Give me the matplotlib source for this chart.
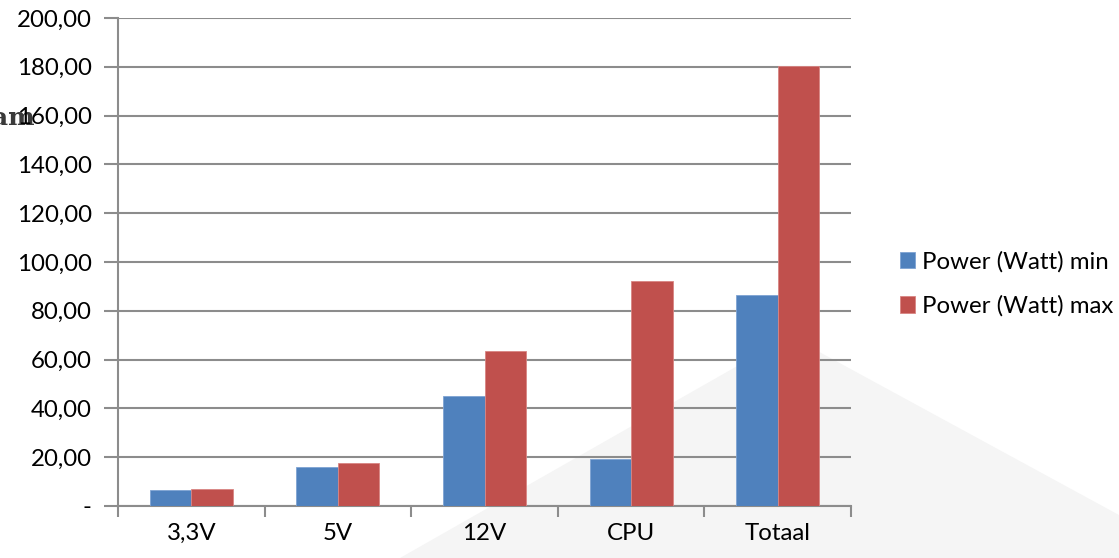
import matplotlib
matplotlib.use("Agg")
import matplotlib.pyplot as plt
from matplotlib.patches import Polygon
from matplotlib.ticker import FixedLocator, FuncFormatter
import numpy as np

categories = ["3,3V", "5V", "12V", "CPU", "Totaal"]
power_min = [6.5, 16.1, 45.0, 19.2, 86.5]
power_max = [6.8, 17.6, 63.5, 92.3, 180.3]
series_names = ["Power (Watt) min", "Power (Watt) max"]
yticks = [0, 20, 40, 60, 80, 100, 120, 140, 160, 180, 200]

W, H = 1119, 558
fig = plt.figure(figsize=(W / 100, H / 100), dpi=100)
fig.patch.set_facecolor("white")

# faint background watermark triangle
tri = Polygon([(400 / W, 0), (790 / W, 1 - 336 / H), (1.0, 1 - 515 / H), (1.0, 0)],
              closed=True, transform=fig.transFigure, facecolor="#f5f5f5",
              edgecolor="none", zorder=-5)
fig.patches.append(tri)

left, right, top, bottom = 118, 851, 18, 506
ax = fig.add_axes([left / W, 1 - bottom / H, (right - left) / W, (bottom - top) / H])
ax.set_facecolor("none")
ax.set_zorder(1)

font = "Lato"
fs = 17.3
blue = "#4f81bd"
red = "#c0504d"
grid_c = "#8c8c8c"

x = np.arange(len(categories))
bw = 0.283
ax.bar(x - bw / 2, power_min, width=bw, color=blue, edgecolor="#7ea3d3", linewidth=0.6,
       label=series_names[0], zorder=3)
ax.bar(x + bw / 2, power_max, width=bw, color=red, edgecolor="#d98583", linewidth=0.6,
       label=series_names[1], zorder=3)

ax.set_xlim(-0.5, len(categories) - 0.5)
ax.set_ylim(0, 200)
ax.yaxis.set_major_locator(FixedLocator(yticks))
ax.yaxis.set_major_formatter(FuncFormatter(
    lambda v, p: "-" if v == 0 else f"{v:.2f}".replace(".", ",")))
ax.grid(axis="y", color=grid_c, linewidth=1.5, zorder=1)
ax.set_axisbelow(True)

ax.set_xticks(x)
ax.set_xticklabels(categories, fontfamily=font, fontsize=fs)
ax.xaxis.set_minor_locator(FixedLocator(np.arange(-0.5, len(categories), 1.0)))
ax.tick_params(axis="x", which="major", length=0, pad=12)
ax.tick_params(axis="x", which="minor", length=8, width=1.5, color=grid_c)
ax.tick_params(axis="y", length=10, width=1.5, color=grid_c, pad=9)
for lab in ax.get_yticklabels():
    lab.set_fontfamily(font)
    lab.set_fontsize(fs)

for s in ["top", "right"]:
    ax.spines[s].set_visible(False)
for s in ["left", "bottom"]:
    ax.spines[s].set_color(grid_c)
    ax.spines[s].set_linewidth(1.5)

# legend
handles, labels = ax.get_legend_handles_labels()
leg = fig.legend(handles, labels, loc="center left", bbox_to_anchor=(890 / W, 1 - 284 / H),
                 frameon=False, prop={"family": font, "size": fs},
                 handlelength=0.65, handleheight=0.65, handletextpad=0.3,
                 labelspacing=0.95, borderaxespad=0)

# clipped watermark text at the left edge
fig.text(-8 / W, 1 - 118 / H, "am", fontfamily="DejaVu Serif", fontweight="bold",
         fontsize=18, color="#3a3a3a", va="center", ha="left", zorder=0)

fig.savefig("out.png", dpi=100)
